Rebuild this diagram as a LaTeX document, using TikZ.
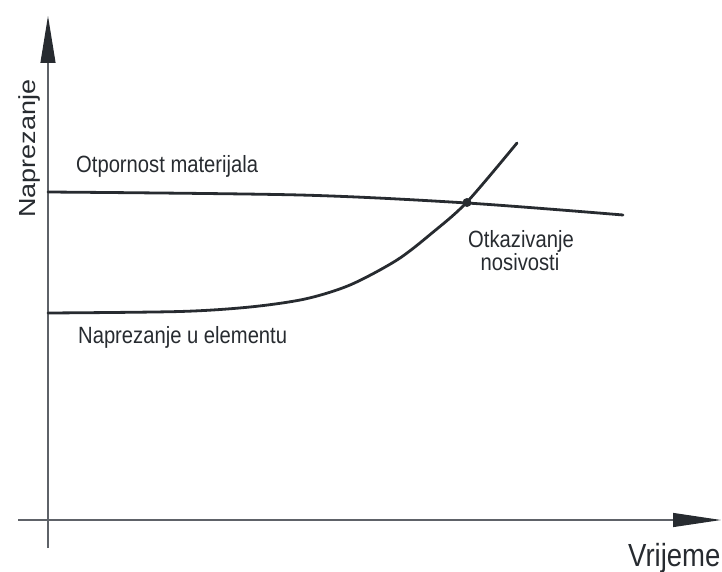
\documentclass[tikz,border=0pt]{standalone}
\usepackage{fontspec}
\setmainfont{Liberation Sans}
\usetikzlibrary{arrows.meta}
\definecolor{axisgray}{HTML}{5E6268}
\definecolor{inkdark}{HTML}{272B30}

\begin{document}
\begin{tikzpicture}[x=1pt, y=-1pt,
    axis/.style={draw=axisgray, line width=1.1pt},
    curve/.style={draw=inkdark, line width=2.8pt, line cap=round},
    lbl/.style={xscale=0.86, inner sep=0pt, text=inkdark}]
  \useasboundingbox (0,0) rectangle (722,572);
  % axes
  \coordinate (yfoot) at (48,548);
  \coordinate (ytip) at (48,16);
  \coordinate (xfoot) at (18,520);
  \coordinate (xtip) at (721,520);
  \draw[axis, -{Triangle[length=47pt, width=15pt, color=inkdark]}] (yfoot) -- (ytip);
  \draw[axis, -{Triangle[length=48pt, width=14pt, color=inkdark]}] (xfoot) -- (xtip);
  \node[lbl, rotate=90, font=\fontsize{27}{32}\selectfont, anchor=base west] (ylabel) at (35,218) {Naprezanje};
  \node[lbl, font=\fontsize{32}{36}\selectfont, anchor=base west] (xlabel) at (628,566) {Vrijeme};
  % otpornost i naprezanje
  \draw[curve] plot[smooth] coordinates {(48,192) (300,195) (467,203) (623,215)};
  \draw[curve] plot[smooth] coordinates {(48,313) (180,311.5) (250,307) (305,299)
    (350,285) (397,260) (432,233) (467,202) (517,143)};
  \node[circle, fill=inkdark, inner sep=0pt, minimum size=9pt] (fail) at (467,202.5) {};
  \node[lbl, font=\fontsize{23.5}{28}\selectfont, anchor=base west] (otpor) at (76,172) {Otpornost materijala};
  \node[lbl, font=\fontsize{23.5}{28}\selectfont, anchor=base west] (naprel) at (78,343) {Naprezanje u elementu};
  \node[lbl, font=\fontsize{23.5}{28}\selectfont, anchor=base] (otkaz) at (521,247) {Otkazivanje};
  \node[lbl, font=\fontsize{23.5}{28}\selectfont, anchor=base] (nosiv) at (520,270) {nosivosti};
\end{tikzpicture}
\end{document}
